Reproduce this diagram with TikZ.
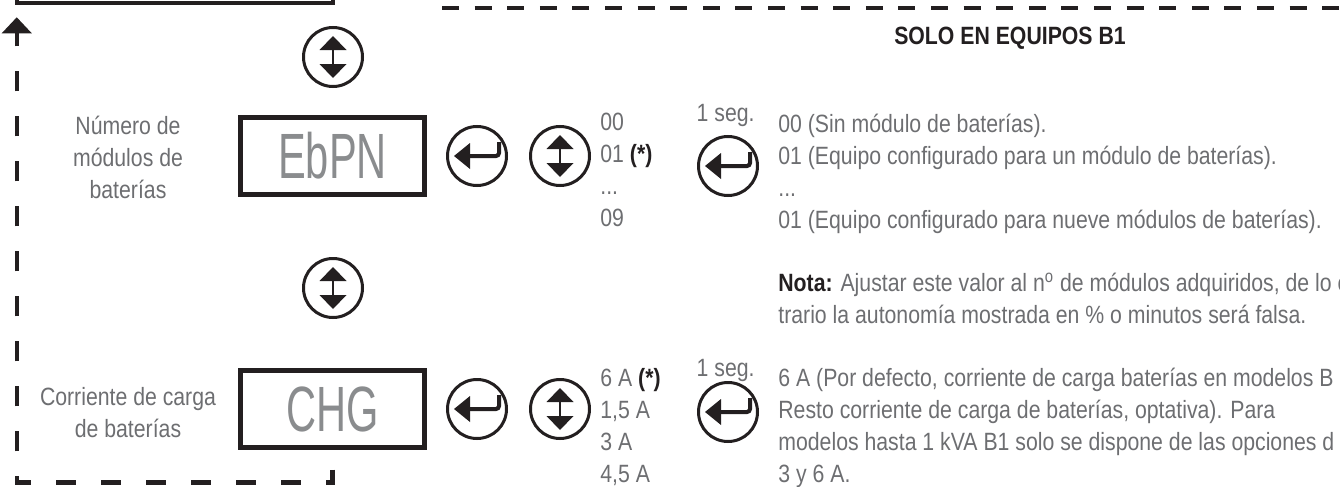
\documentclass[tikz,border=0pt]{standalone}
\usepackage{fontspec}
\setmainfont{Liberation Sans}[FakeStretch=0.85]
\newfontfamily\lcdfont{Liberation Sans}[FakeStretch=0.65]
\usepackage{tikz}
\usetikzlibrary{
  arrows.meta,
  positioning,
  calc
}
\definecolor{isLine}{HTML}{231F20}
\definecolor{isText}{HTML}{6D6E71}
\definecolor{isLcd}{HTML}{8A8C8E}

\tikzset{
  lcdbox/.style={draw=isLine, line width=2.5pt, minimum width=92pt, minimum height=38.5pt,
    inner sep=0pt, text=isLcd, font=\lcdfont\fontsize{32}{32}\selectfont},
  keybtn/.style={circle, draw=isLine, line width=1.5pt, minimum size=29.5pt, inner sep=0pt},
  prevstep/.style={draw=isLine, line width=2.25pt, minimum width=158pt, minimum height=43pt},
  lbl/.style={text=isText, font=\fontsize{12.5}{16}\selectfont, inner sep=0pt, align=center, anchor=base},
  txt/.style={text=isText, font=\fontsize{12.5}{15.85}\selectfont, inner sep=0pt, align=left, anchor=base west},
  seglbl/.style={text=isText, font=\fontsize{12.5}{15}\selectfont, inner sep=0pt, anchor=base east},
  sectitle/.style={text=isLine, font=\bfseries\fontsize{12.5}{15}\selectfont, inner sep=0pt, anchor=base},
  loopline/.style={draw=isLine, line width=2.25pt, dash pattern=on 10pt off 12.5pt}
}

\newcommand{\updownicon}[1]{%
  \begin{scope}[shift={(#1.center)}]
    \draw[isLine, line width=1.25pt] (0,-9) -- (0,9);
    \fill[isLine] (0,-21) -- (13.5,-7) -- (-13.5,-7) -- cycle;
    \fill[isLine] (0,21) -- (13.5,7) -- (-13.5,7) -- cycle;
  \end{scope}}
\newcommand{\entericon}[1]{%
  \begin{scope}[shift={(#1.center)}]
    \draw[isLine, line width=2pt, rounded corners=1.5pt] (-8,0) -- (22,0) -- (22,-14);
    \fill[isLine] (-23,0) -- (-7,-13) -- (-7,13) -- cycle;
  \end{scope}}
\newcommand{\defmark}{\textbf{\color{isLine}(*)}}

\begin{document}
\begin{tikzpicture}[x=0.5pt, y=-0.5pt, node distance=9.5pt]
  \useasboundingbox (0,0) rectangle (1340,487);
  \clip (0,0) rectangle (1340,487);

  % previous step (cut by the page) and B1 section
  \node[prevstep] (prevbox) at (175,-40) {};
  \draw[isLine, line width=2.25pt, dash pattern=on 8.5pt off 7.8pt] (442,8) -- (1345,8);
  \node[sectitle] (b1title) at (1010,45) {SOLO EN EQUIPOS B1};

  % number of battery modules (multi-line nodes sit on their last line)
  \node[keybtn] (updown0) at (333,57) {};
  \node[lcdbox] (ebpn) at (332.5,156) {EbPN};
  \node[keybtn, right=of ebpn] (enter1) {};
  \node[keybtn, right=10.5pt of enter1] (updown1) {};
  \node[keybtn] (conf1) at (728,166) {};
  \updownicon{updown0}
  \entericon{enter1}
  \updownicon{updown1}
  \entericon{conf1}

  \node[lbl] (lblebpn) at (128,198) {Número de\\módulos de\\baterías};
  \node[txt] (valebpn) at (600,226) {00\\01 \defmark\\...\\09};
  \node[seglbl] (seg1) at (755,121) {1 seg.};
  \node[txt] (optebpn) at (778,228) {00 (Sin módulo de baterías).\\
    01 (Equipo configurado para un módulo de baterías).\\...\\
    01 (Equipo configurado para nueve módulos de baterías).};
  \node[txt] (nota) at (778,323) {\textbf{\color{isLine}Nota:} Ajustar este valor al n\textsuperscript{o} de módulos adquiridos, de lo co\\
    trario la autonomía mostrada en \% o minutos será falsa.};

  % charge current
  \node[keybtn] (updown2) at (333,288) {};
  \node[lcdbox] (chg) at (332.5,409) {CHG};
  \node[keybtn, right=of chg] (enter2) {};
  \node[keybtn, right=10.5pt of enter2] (updown3) {};
  \node[keybtn] (conf2) at (728,412) {};
  \updownicon{updown2}
  \entericon{enter2}
  \updownicon{updown3}
  \entericon{conf2}

  \node[lbl] (lblchg) at (128,437) {Corriente de carga\\de baterías};
  \node[txt] (valchg) at (600,482) {6 A \defmark\\1,5 A\\3 A\\4,5 A};
  \node[seglbl] (seg2) at (755,376) {1 seg.};
  \node[txt] (optchg) at (778,482) {6 A (Por defecto, corriente de carga baterías en modelos B\\
    Resto corriente de carga de baterías, optativa). Para\\
    modelos hasta 1 kVA B1 solo se dispone de las opciones d\\
    3 y 6 A.};

  % back to the previous step
  \draw[loopline, shorten <=9.75pt, shorten >=6pt, -{Triangle[width=14.5pt, length=8pt]}]
    (chg.south) -- ++(0,32.5) -| ([xshift=1pt]prevbox.south west);
\end{tikzpicture}
\end{document}
